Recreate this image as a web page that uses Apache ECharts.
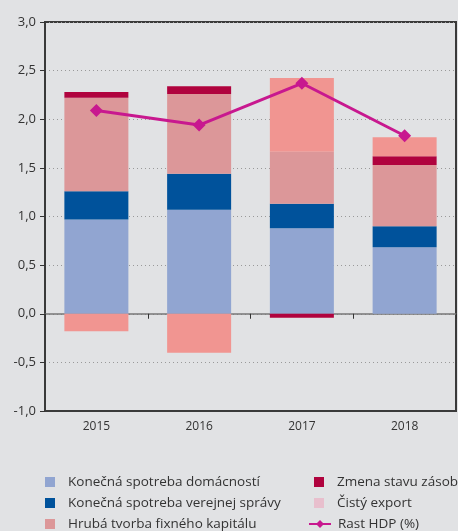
<!DOCTYPE html>
<html>
<head>
<meta charset="utf-8">
<script src="https://cdn.jsdelivr.net/npm/echarts@6/dist/echarts.min.js"></script>
<style>
  html, body { margin: 0; padding: 0; background: #e1e2e4; }
  #chart { width: 458px; height: 531px; }
</style>
</head>
<body>
<div id="chart"></div>
<script>
// --- DATA ---
const years = ['2015', '2016', '2017', '2018'];
const domacnosti = [0.97, 1.07, 0.88, 0.685];
const verejnaSprava = [0.29, 0.37, 0.25, 0.215];
const hrubaTvorba = [0.96, 0.82, 0.535, 0.63];
const zmenaZasob = [0.06, 0.08, -0.04, 0.09];
const cistyExport = [-0.18, -0.40, 0.76, 0.195];
const rastHdp = [2.09, 1.94, 2.37, 1.83];

const fontFamily = '"Open Sans", "Noto Sans", sans-serif';
const textColor = '#333';
const frameColor = '#3a3a3a';

const chart = echarts.init(document.getElementById('chart'));

function barSeries(name, data, color) {
    return {
        name: name,
        type: 'bar',
        stack: 'hdp',
        data: data,
        barWidth: 64,
        itemStyle: { color: color },
        emphasis: { disabled: true }
    };
}

const legendText = { color: textColor, fontSize: 13.5, fontFamily: fontFamily, lineHeight: 14, padding: [0, 0, 0, 8] };

chart.setOption({
    backgroundColor: '#e1e2e4',
    animation: false,
    // frame round the plot comes from the grid border
    grid: { left: 45, right: 2, top: 22, bottom: 120, show: true, borderColor: frameColor, borderWidth: 2 },
    legend: [
        {
            orient: 'vertical', left: 45, top: 475, height: 80, padding: 0, itemGap: 7,
            itemWidth: 10, itemHeight: 10,
            textStyle: legendText,
            data: [
                { name: 'Konečná spotreba domácností', icon: 'rect' },
                { name: 'Konečná spotreba verejnej správy', icon: 'rect' },
                { name: 'Hrubá tvorba fixného kapitálu', icon: 'rect' }
            ]
        },
        {
            orient: 'vertical', left: 314, top: 475, height: 80, padding: 0, itemGap: 7,
            itemWidth: 10, itemHeight: 10,
            textStyle: legendText,
            data: [
                { name: 'Zmena stavu zásob', icon: 'rect' },
                { name: 'Čistý export', icon: 'rect', itemStyle: { color: '#e8bfcd' } }
            ]
        },
        {
            orient: 'vertical', left: 308, top: 517, height: 40, padding: 0,
            itemWidth: 22, itemHeight: 10,
            textStyle: Object.assign({}, legendText, { padding: [0, 0, 0, 2] }),
            data: [{ name: 'Rast HDP (%)' }]
        }
    ],
    xAxis: [
        {
            // bottom axis with the year labels
            type: 'category',
            data: years,
            position: 'bottom',
            axisLine: { onZero: false, lineStyle: { color: frameColor, width: 2 } },
            axisTick: { show: false },
            axisLabel: { color: textColor, fontSize: 12, fontFamily: fontFamily, margin: 10 }
        },
        {
            // zero line with ticks between categories
            type: 'category',
            data: years,
            position: 'top',
            axisLine: { onZero: true, lineStyle: { color: '#777', width: 1.5 } },
            axisTick: { show: true, inside: true, length: 5, lineStyle: { color: '#333', width: 1 } },
            axisLabel: { show: false }
        }
    ],
    yAxis: {
        type: 'value',
        min: -1, max: 3, interval: 0.5,
        axisLine: { show: true, lineStyle: { color: frameColor, width: 2 } },
        axisTick: { show: true, length: 5, lineStyle: { color: '#333' } },
        axisLabel: {
            color: textColor, fontSize: 13, fontFamily: fontFamily, margin: 9,
            formatter: v => v.toFixed(1).replace('.', ',')
        },
        splitLine: { show: true, lineStyle: { color: '#999', type: [1, 3], width: 1 } }
    },
    series: [
        barSeries('Konečná spotreba domácností', domacnosti, '#91a5d1'),
        barSeries('Konečná spotreba verejnej správy', verejnaSprava, '#00529b'),
        barSeries('Hrubá tvorba fixného kapitálu', hrubaTvorba, '#dc9799'),
        barSeries('Zmena stavu zásob', zmenaZasob, '#b0033e'),
        barSeries('Čistý export', cistyExport, '#f19591'),
        {
            name: 'Rast HDP (%)',
            type: 'line',
            data: rastHdp,
            z: 5,
            symbol: 'diamond',
            symbolSize: 13,
            itemStyle: { color: '#c8188f' },
            lineStyle: { color: '#c8188f', width: 3 },
            emphasis: { disabled: true }
        }
    ]
});
</script>
</body>
</html>
